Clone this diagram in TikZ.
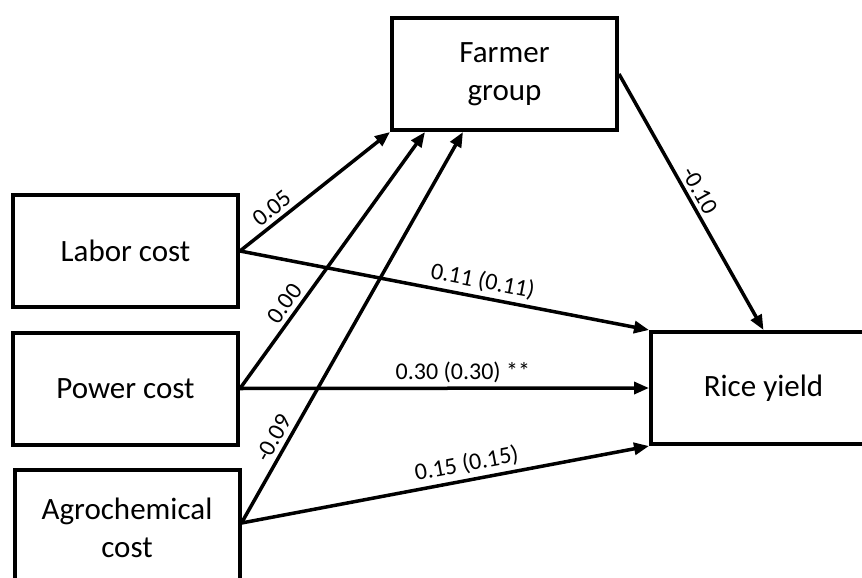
\documentclass[tikz,border=0pt]{standalone}
\usepackage{fontspec}
\setmainfont{Carlito}
\usetikzlibrary{arrows.meta}
\begin{document}
\begin{tikzpicture}[x=1pt,y=-1pt,
  box/.style={draw, line width=4pt, minimum width=225pt, minimum height=112pt,
    align=center, font=\fontsize{31}{38}\selectfont, inner sep=0pt},
  conn/.style={line width=3.5pt, -{Triangle[length=15pt,width=12pt]}},
  lab/.style={font=\fontsize{24}{26}\selectfont, sloped, above, inner sep=4pt}]
\useasboundingbox (0,0) rectangle (862,578);
\begin{scope}
\clip (0,0) rectangle (862,578);
\node[box] (labor) at (125.5,251) {Labor cost};
\node[box] (power) at (125.5,388.5) {Power cost};
\node[box, minimum height=116pt] (agro) at (127,528) {Agrochemical\\cost};
\node[box] (farmer) at (504.5,74) {Farmer\\group};
\node[box] (rice) at (763.5,388) {Rice yield};
\coordinate (fb2) at ([xshift=35pt]farmer.south west);
\coordinate (fb3) at ([xshift=73pt]farmer.south west);
\coordinate (ae) at ([yshift=5pt]agro.east);
\draw[conn] (labor.east) -- node[lab, pos=0.27]{0.05} (farmer.south west);
\draw[conn] (labor.east) -- node[lab, pos=0.586]{0.11 (0.11)} (rice.north west);
\draw[conn] (power.east) -- node[lab, pos=0.30]{0.00} (fb2);
\draw[conn] (power.east) -- node[lab, pos=0.545]{0.30 (0.30) **} (rice.west);
\draw[conn] (ae) -- node[lab, pos=0.20]{-0.09} (fb3);
\draw[conn] (ae) -- node[lab, pos=0.56]{0.15 (0.15)} (rice.south west);
\draw[conn] (farmer.east) -- node[lab, pos=0.48]{-0.10} (rice.north);
\end{scope}
\end{tikzpicture}
\end{document}
